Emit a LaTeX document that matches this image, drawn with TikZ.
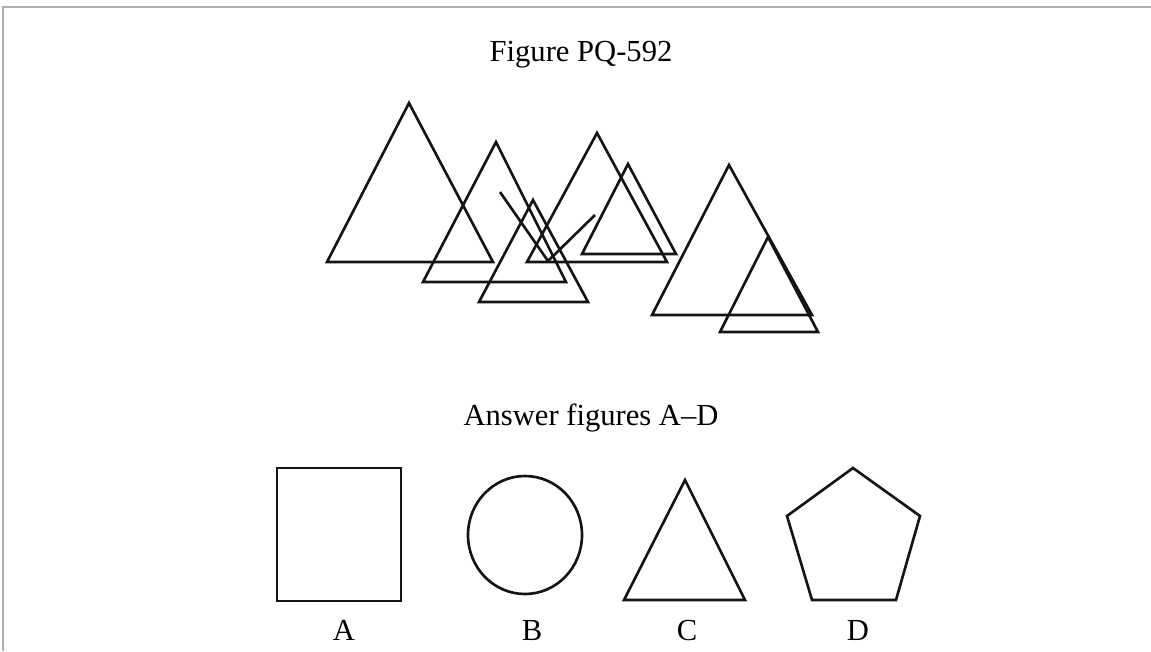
\documentclass[tikz,border=0pt]{standalone}
\usepackage{fontspec}
\setmainfont{Liberation Serif}
\usepackage{tikz}
\definecolor{marco}{RGB}{175,175,175}
\definecolor{trazo}{RGB}{20,20,20}

\begin{document}
\begin{tikzpicture}[x=0.01cm, y=-0.01cm, line width=0.75pt, draw=trazo]
        \useasboundingbox (0,0) rectangle (1151,651);
        \draw[marco, line width=0.7pt] (3,651) -- (3,7) -- (1151,7);
        \node[font=\fontsize{8.7}{10}\selectfont, anchor=base] (titulo) at (581,61) {Figure PQ-592};
        % figura compuesta
        \draw (327,262) -- (409,103) -- (493,262) -- cycle;
        \draw (423,282) -- (496,142) -- (566,282) -- cycle;
        \draw (479,302) -- (533,200) -- (588,302) -- cycle;
        \draw (527,262) -- (597,133) -- (667,262) -- cycle;
        \draw (582,254) -- (628,164) -- (676,254) -- cycle;
        \draw (500,192) -- (548,261) -- (595,215);
        \draw (652,315) -- (729,165) -- (812,315) -- cycle;
        \draw (720,332) -- (768,237) -- (818,332) -- cycle;
        \node[font=\fontsize{8.7}{10}\selectfont, anchor=base] (respuestas) at (591,425) {Answer figures A--D};
        % opciones
        \draw (277,468) rectangle (401,601);
        \draw (525,535) ellipse [x radius=57, y radius=59];
        \draw (624,600) -- (685,480) -- (745,600) -- cycle;
        \draw (853,468) -- (920,516) -- (896,600) -- (812,600) -- (787,516) -- cycle;
        \node[font=\fontsize{8.7}{10}\selectfont, anchor=base] (optA) at (344,640) {A};
        \node[font=\fontsize{8.7}{10}\selectfont, anchor=base] (optB) at (532,640) {B};
        \node[font=\fontsize{8.7}{10}\selectfont, anchor=base] (optC) at (687,640) {C};
        \node[font=\fontsize{8.7}{10}\selectfont, anchor=base] (optD) at (858,640) {D};
      \end{tikzpicture}
\end{document}
